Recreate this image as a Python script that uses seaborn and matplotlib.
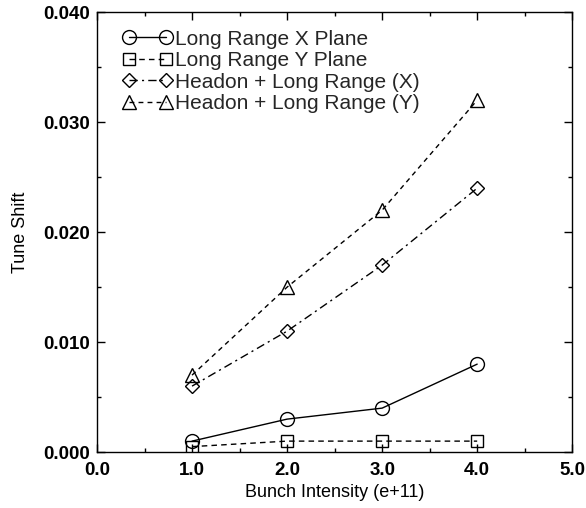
import matplotlib
matplotlib.use("Agg")
import matplotlib.pyplot as plt
import seaborn as sns
import pandas as pd
from matplotlib.ticker import MultipleLocator, FormatStrFormatter

sns.set_theme(style="white")
plt.rcParams['font.family'] = ['Liberation Sans', 'DejaVu Sans']

intensity = [1.0, 2.0, 3.0, 4.0]
lr_x = [0.001, 0.003, 0.004, 0.008]
lr_y = [0.0005, 0.001, 0.001, 0.001]
ho_x = [0.006, 0.011, 0.017, 0.024]
ho_y = [0.007, 0.015, 0.022, 0.032]

labels = ["Long Range X Plane", "Long Range Y Plane",
          "Headon + Long Range (X)", "Headon + Long Range (Y)"]
series = [lr_x, lr_y, ho_x, ho_y]
markers = ["o", "s", "D", "^"]
msizes = [10, 8.5, 7.5, 9.5]
styles = ["-", (0, (4, 3)), (0, (6, 3, 1.5, 3)), (0, (3.5, 3))]

fig = plt.figure(figsize=(5.86, 5.08), dpi=100)
ax = fig.add_axes([0.1655, 0.110, 0.811, 0.866])

for vals, lab, m, ms, ls in zip(series, labels, markers, msizes, styles):
    df = pd.DataFrame({"x": intensity, "y": vals})
    sns.lineplot(data=df, x="x", y="y", ax=ax, color="black", marker=m,
                 markersize=ms, markerfacecolor="none", markeredgecolor="black",
                 markeredgewidth=1.0, linewidth=1.0, linestyle=ls, label=lab)

ax.set_xlim(0, 5)
ax.set_ylim(0, 0.04)
ax.xaxis.set_major_locator(MultipleLocator(1.0))
ax.xaxis.set_minor_locator(MultipleLocator(0.5))
ax.yaxis.set_major_locator(MultipleLocator(0.01))
ax.yaxis.set_minor_locator(MultipleLocator(0.005))
ax.xaxis.set_major_formatter(FormatStrFormatter('%.1f'))
ax.yaxis.set_major_formatter(FormatStrFormatter('%.3f'))
ax.tick_params(which='both', direction='in', top=True, right=True, color='black',
               bottom=True, left=True)
ax.tick_params(which='major', length=6, width=1, labelsize=13.5)
ax.tick_params(axis='x', which='major', pad=7)
ax.tick_params(axis='y', which='major', pad=5)
ax.tick_params(which='minor', length=3, width=1)
for t in ax.get_xticklabels() + ax.get_yticklabels():
    t.set_fontweight('bold')
    t.set_color('black')
for s in ax.spines.values():
    s.set_color('black')
    s.set_linewidth(1.0)

ax.set_xlabel("Bunch Intensity (e+11)", fontsize=13, color='black', labelpad=4)
ax.set_ylabel("Tune Shift", fontsize=13, color='black', labelpad=10)

leg = ax.legend(loc='upper left', bbox_to_anchor=(0.054, 0.96), frameon=False,
                numpoints=2, fontsize=15, handlelength=2.4, handletextpad=0.1,
                labelspacing=0.12, borderaxespad=0.0, borderpad=0.0)

fig.savefig("out.png", dpi=100)
